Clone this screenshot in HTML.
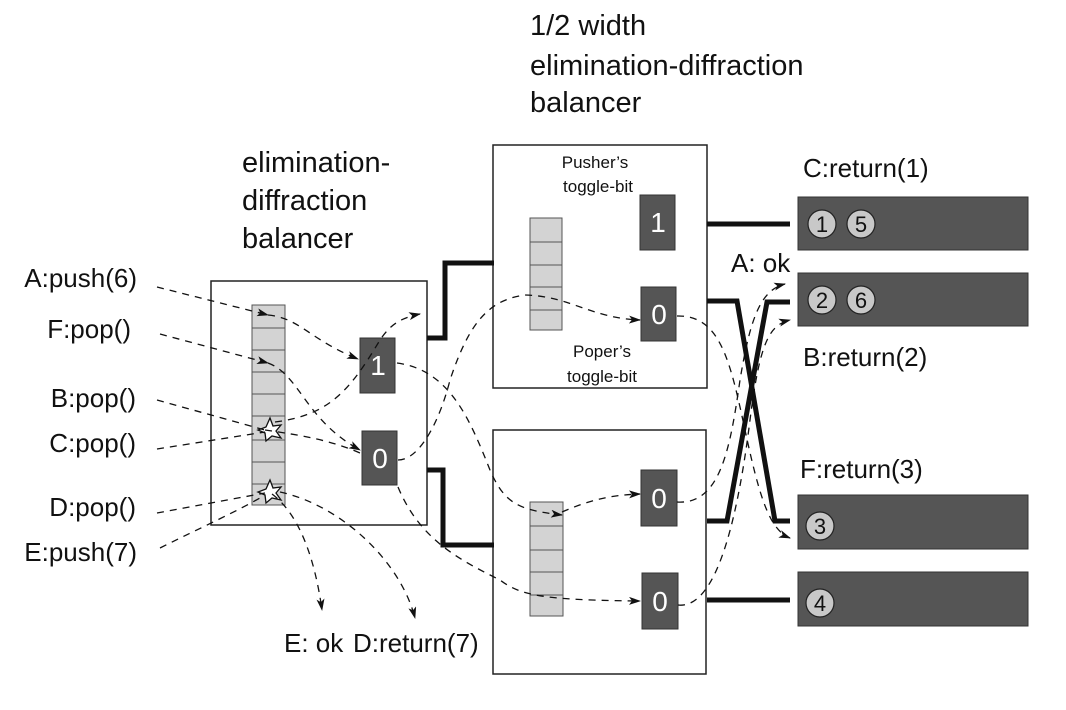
<!DOCTYPE html>
<html><head><meta charset="utf-8"><style>
html,body{margin:0;padding:0;background:#fff;}
svg{display:block;}
text{font-family:"Liberation Sans",sans-serif;fill:#111;}
</style></head><body>
<svg width="1066" height="710" viewBox="0 0 1066 710" xmlns="http://www.w3.org/2000/svg">
<defs>
<marker id="ar" markerWidth="12" markerHeight="8" refX="11" refY="4" orient="auto" markerUnits="userSpaceOnUse">
<path d="M0,0 L12,4 L0,8 L3,4 z" fill="#111"/>
</marker>
</defs>
<g font-size="29">
<text x="530" y="35">1/2 width</text>
<text x="530" y="75">elimination-diffraction</text>
<text x="530" y="112">balancer</text>
<text x="242" y="172">elimination-</text>
<text x="242" y="210">diffraction</text>
<text x="242" y="248">balancer</text>
</g>
<g font-size="26" text-anchor="end">
<text x="137" y="287">A:push(6)</text>
<text x="131" y="338">F:pop()</text>
<text x="136" y="407">B:pop()</text>
<text x="136" y="452">C:pop()</text>
<text x="136" y="516">D:pop()</text>
<text x="137" y="561">E:push(7)</text>
</g>
<g font-size="26">
<text x="284" y="652">E: ok</text>
<text x="353" y="652">D:return(7)</text>
<text x="803" y="177">C:return(1)</text>
<text x="731" y="272">A: ok</text>
<text x="803" y="366">B:return(2)</text>
<text x="800" y="478">F:return(3)</text>
</g>
<g fill="#fff" stroke="#222" stroke-width="1.5">
<rect x="211" y="281" width="216" height="244"/>
<rect x="493" y="145" width="214" height="243"/>
<rect x="493" y="430" width="213" height="244"/>
</g>
<g fill="#d3d3d3" stroke="#555" stroke-width="1">
<rect x="252" y="305" width="33" height="200"/>
<rect x="530" y="218" width="32" height="112"/>
<rect x="530" y="502" width="33" height="114"/>
</g>
<g stroke="#555" stroke-width="1">
<line x1="252" y1="328" x2="285" y2="328"/><line x1="252" y1="350" x2="285" y2="350"/>
<line x1="252" y1="372" x2="285" y2="372"/><line x1="252" y1="394" x2="285" y2="394"/>
<line x1="252" y1="416" x2="285" y2="416"/><line x1="252" y1="440" x2="285" y2="440"/>
<line x1="252" y1="462" x2="285" y2="462"/><line x1="252" y1="484" x2="285" y2="484"/>
<line x1="530" y1="242" x2="562" y2="242"/><line x1="530" y1="265" x2="562" y2="265"/>
<line x1="530" y1="287" x2="562" y2="287"/><line x1="530" y1="310" x2="562" y2="310"/>
<line x1="530" y1="526" x2="563" y2="526"/><line x1="530" y1="550" x2="563" y2="550"/>
<line x1="530" y1="572" x2="563" y2="572"/><line x1="530" y1="595" x2="563" y2="595"/>
</g>
<g fill="#fff" stroke="#111" stroke-width="1.3">
<polygon points="270,418 273,426 281,425 276,431 281,438 272,436 266,441 265,433 258,430 266,427"/>
<polygon points="270,480 273,488 281,487 276,493 281,500 272,498 266,503 265,495 258,492 266,489"/>
</g>
<g fill="#555" stroke="#333" stroke-width="1">
<rect x="360" y="338" width="35" height="55"/>
<rect x="362" y="431" width="35" height="54"/>
<rect x="640" y="195" width="35" height="55"/>
<rect x="641" y="287" width="35" height="54"/>
<rect x="641" y="470" width="36" height="56"/>
<rect x="642" y="573" width="36" height="56"/>
</g>
<g font-size="28" text-anchor="middle">
<text x="378" y="375" style="fill:#fff">1</text>
<text x="380" y="468" style="fill:#fff">0</text>
<text x="658" y="232" style="fill:#fff">1</text>
<text x="659" y="324" style="fill:#fff">0</text>
<text x="659" y="508" style="fill:#fff">0</text>
<text x="660" y="611" style="fill:#fff">0</text>
</g>
<g font-size="17" text-anchor="middle">
<text x="595" y="168">Pusher’s</text>
<text x="598" y="192">toggle-bit</text>
<text x="602" y="357">Poper’s</text>
<text x="602" y="382">toggle-bit</text>
</g>
<g fill="#555" stroke="#333" stroke-width="1">
<rect x="798" y="197" width="230" height="53"/>
<rect x="798" y="273" width="230" height="53"/>
<rect x="798" y="495" width="230" height="54"/>
<rect x="798" y="572" width="230" height="54"/>
</g>
<g fill="#c8c8c8" stroke="#222" stroke-width="1.2">
<circle cx="822" cy="224" r="14"/><circle cx="861" cy="224" r="14"/>
<circle cx="822" cy="300" r="14"/><circle cx="861" cy="300" r="14"/>
<circle cx="820" cy="526" r="14"/><circle cx="820" cy="603" r="14"/>
</g>
<g font-size="22" text-anchor="middle">
<text x="822" y="232">1</text><text x="861" y="232">5</text>
<text x="822" y="308">2</text><text x="861" y="308">6</text>
<text x="820" y="534">3</text><text x="820" y="611">4</text>
</g>
<g fill="none" stroke="#111" stroke-width="5">
<polyline points="427,338 445,338 445,263 494,263"/>
<polyline points="427,470 443,470 443,545 494,545"/>
<polyline points="707,224 790,224"/>
<polyline points="707,301 737,301 775,521 790,521"/>
<polyline points="707,521 727,521 767,302 790,302"/>
<polyline points="707,600 790,600"/>
</g>
<g fill="none" stroke="#111" stroke-width="1.3" stroke-dasharray="7,6">
<path d="M157,287 L268,315" marker-end="url(#ar)"/>
<path d="M268,315 C300,318 310,340 358,359" marker-end="url(#ar)"/>
<path d="M160,334 L268,363" marker-end="url(#ar)"/>
<path d="M268,363 C300,375 305,420 360,450" marker-end="url(#ar)"/>
<path d="M157,400 L265,430"/>
<path d="M265,430 C300,435 330,440 360,453"/>
<path d="M157,449 L265,432"/>
<path d="M275,422 C330,415 350,390 380,340 C390,325 400,318 420,314" marker-end="url(#ar)"/>
<path d="M157,513 L265,493"/>
<path d="M160,548 C200,528 240,510 265,495"/>
<path d="M272,494 C300,515 315,560 322,610" marker-end="url(#ar)"/>
<path d="M280,492 C340,505 400,560 415,618" marker-end="url(#ar)"/>
<path d="M397,363 C450,370 470,420 490,470 C505,505 520,510 562,515" marker-end="url(#ar)"/>
<path d="M398,460 C420,460 440,420 450,380 C470,320 490,300 525,295 C570,296 590,318 640,320" marker-end="url(#ar)"/>
<path d="M398,487 C420,540 460,560 500,580 C520,595 540,600 640,601" marker-end="url(#ar)"/>
<path d="M562,512 C590,500 610,495 640,494" marker-end="url(#ar)"/>
<path d="M677,316 C720,315 730,360 745,430 C760,500 770,530 790,538" marker-end="url(#ar)"/>
<path d="M677,502 C720,505 730,450 740,380 C750,320 760,290 785,284" marker-end="url(#ar)"/>
<path d="M678,605 C720,610 740,500 750,420 C760,340 770,325 790,320" marker-end="url(#ar)"/>
</g>
</svg>
</body></html>
